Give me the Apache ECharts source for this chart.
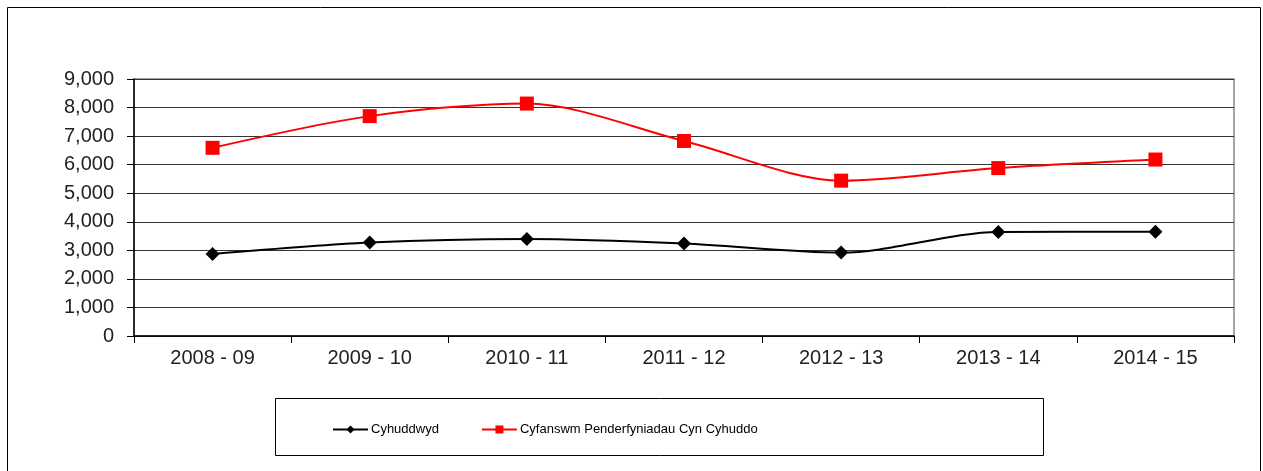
<!DOCTYPE html>
<html>
<head>
<meta charset="utf-8">
<script src="https://cdn.jsdelivr.net/npm/echarts@6/dist/echarts.min.js"></script>
<style>
    html, body { margin: 0; padding: 0; background: #fff; }
    #chartDiv { width: 1263px; height: 471px; }
</style>
</head>
<body>
<div id="chartDiv"></div>
<script>
// categories and values
var years = ['2008 - 09', '2009 - 10', '2010 - 11', '2011 - 12', '2012 - 13', '2013 - 14', '2014 - 15'];
var cyhuddwyd = [2870, 3270, 3400, 3240, 2920, 3640, 3650];
var cyfanswm = [6590, 7700, 8140, 6830, 5440, 5880, 6180];
var seriesNames = ['Cyhuddwyd', 'Cyfanswm Penderfyniadau Cyn Cyhuddo'];

var font = 'Liberation Sans, Arial, sans-serif';

var myChart = echarts.init(document.getElementById('chartDiv'));

var option = {
    backgroundColor: '#fff',
    animation: false,
    graphic: [
        {
            // outer frame
            type: 'rect',
            shape: { x: 7.5, y: 7.5, width: 1253, height: 470 },
            style: { fill: 'none', stroke: '#000', lineWidth: 1 },
            z: -1
        },
        {
            // plot area border (top / right grey)
            type: 'rect',
            shape: { x: 134, y: 79, width: 1100, height: 257 },
            style: { fill: 'none', stroke: '#888', lineWidth: 1.5 },
            z: -1
        },
        {
            // legend box
            type: 'rect',
            shape: { x: 275.5, y: 398.5, width: 768, height: 57 },
            style: { fill: '#fff', stroke: '#000', lineWidth: 1 },
            z: -1
        }
    ],
    grid: {
        left: 134,
        right: 29,
        top: 79,
        bottom: 135,
        containLabel: false
    },
    legend: {
        data: seriesNames,
        left: 327,
        top: 418,
        itemWidth: 35,
        itemHeight: 10,
        itemGap: 42,
        textStyle: {
            fontFamily: font,
            fontSize: 13,
            color: '#000',
            padding: [0, 0, 0, -2]
        }
    },
    xAxis: {
        type: 'category',
        boundaryGap: true,
        data: years,
        axisLine: { lineStyle: { color: '#000', width: 1.5 } },
        axisTick: { show: true, length: 7, lineStyle: { color: '#000' } },
        axisLabel: {
            fontFamily: font,
            fontSize: 20,
            color: '#222',
            margin: 12
        },
        splitLine: { show: false }
    },
    yAxis: {
        type: 'value',
        min: 0,
        max: 9000,
        interval: 1000,
        axisLine: { show: true, lineStyle: { color: '#000', width: 1.5 } },
        axisTick: { show: true, length: 7, lineStyle: { color: '#000' } },
        axisLabel: {
            fontFamily: font,
            fontSize: 20,
            color: '#222',
            margin: 20,
            formatter: function (v) {
                return v.toString().replace(/\B(?=(\d{3})+(?!\d))/g, ',');
            }
        },
        splitLine: { show: true, lineStyle: { color: '#333', width: 1.2 } }
    },
    series: [
        {
            name: seriesNames[0],
            type: 'line',
            smooth: 0.3,
            data: cyhuddwyd,
            symbol: 'diamond',
            symbolSize: 14,
            itemStyle: { color: '#000' },
            lineStyle: { color: '#000', width: 2 },
            z: 3
        },
        {
            name: seriesNames[1],
            type: 'line',
            smooth: 0.3,
            data: cyfanswm,
            symbol: 'rect',
            symbolSize: 14,
            itemStyle: { color: '#ff0000' },
            lineStyle: { color: '#ff0000', width: 2 },
            z: 4
        }
    ]
};

myChart.setOption(option);
</script>
</body>
</html>
